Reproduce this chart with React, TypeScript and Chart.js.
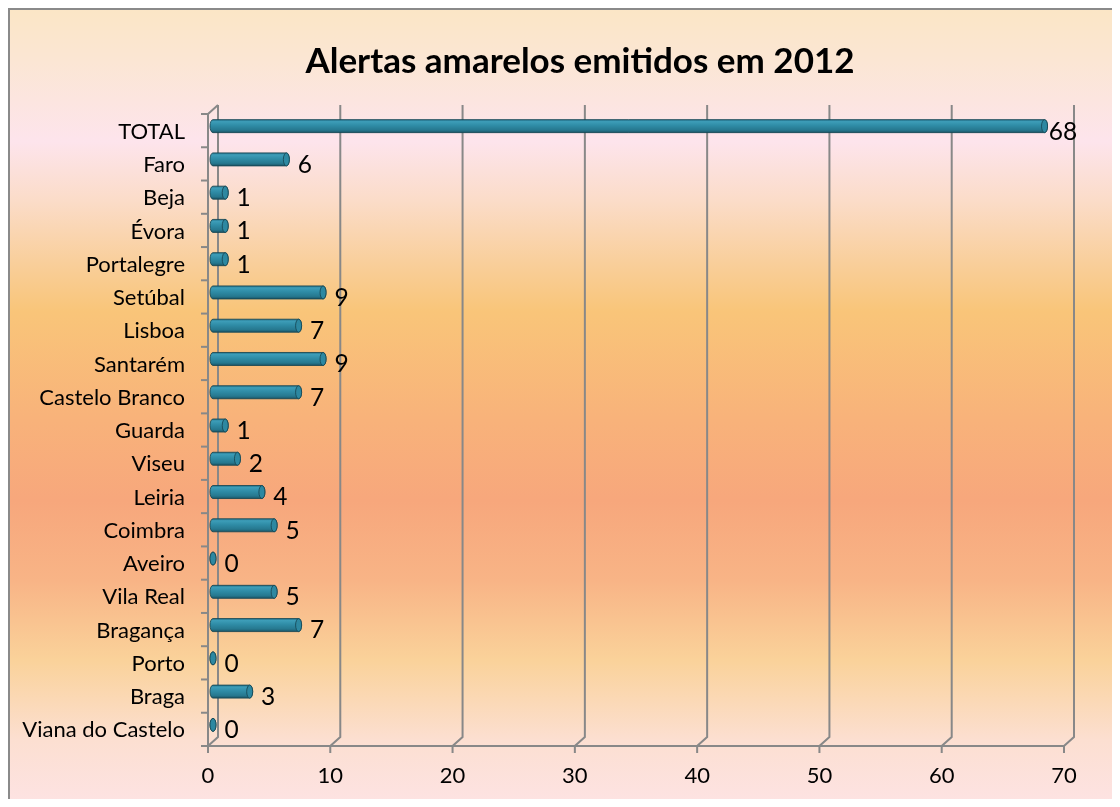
import React, { useEffect, useRef } from "react";
import { Chart, registerables } from "chart.js";

Chart.register(...registerables);

const chartTitle = "Alertas amarelos emitidos em 2012";
const categories = [
  "TOTAL",
  "Faro",
  "Beja",
  "Évora",
  "Portalegre",
  "Setúbal",
  "Lisboa",
  "Santarém",
  "Castelo Branco",
  "Guarda",
  "Viseu",
  "Leiria",
  "Coimbra",
  "Aveiro",
  "Vila Real",
  "Bragança",
  "Porto",
  "Braga",
  "Viana do Castelo",
];
const alerts = [68, 6, 1, 1, 1, 9, 7, 9, 7, 1, 2, 4, 5, 0, 5, 7, 0, 3, 0];
const xTicks = [0, 10, 20, 30, 40, 50, 60, 70];

const FONT = "Lato";
const DX = 5;
const DY = 4.5;
const LINE = "#888888";

const titlePlugin = {
  id: "titleText",
  afterDraw(chart: any) {
    const { ctx } = chart;
    ctx.save();
    ctx.font = `bold 35px ${FONT}`;
    ctx.fillStyle = "#000";
    ctx.textAlign = "center";
    ctx.textBaseline = "middle";
    ctx.fillText(chartTitle, 570, 52);
    ctx.restore();
  },
};

const framePlugin = {
  id: "frame3d",
  beforeDatasetsDraw(chart: any) {
    const { ctx, chartArea, scales } = chart;
    const { left, top, bottom } = chartArea;
    const x = scales.x;
    ctx.save();
    ctx.strokeStyle = LINE;
    ctx.lineWidth = 2;
    ctx.lineJoin = "miter";
    ctx.beginPath();
    ctx.moveTo(left - DX, bottom + DY);
    ctx.lineTo(left - DX, top + DY);
    ctx.lineTo(left + DX, top - DY);
    ctx.stroke();
    xTicks.forEach((v) => {
      const px = x.getPixelForValue(v);
      ctx.beginPath();
      ctx.moveTo(px + DX, top - DY);
      ctx.lineTo(px + DX, bottom - DY);
      ctx.lineTo(px - DX, bottom + DY);
      ctx.lineTo(px - DX, bottom + DY + 7);
      ctx.stroke();
    });
    ctx.beginPath();
    ctx.moveTo(x.getPixelForValue(xTicks[0]) - DX, bottom + DY);
    ctx.lineTo(x.getPixelForValue(xTicks[xTicks.length - 1]) - DX, bottom + DY);
    ctx.stroke();
    const n = categories.length;
    const step = (bottom - top) / n;
    for (let k = 0; k <= n; k++) {
      const y = top + k * step + DY;
      ctx.beginPath();
      ctx.moveTo(left - DX - 7, y);
      ctx.lineTo(left - DX, y);
      ctx.stroke();
    }
    ctx.restore();
  },
};

const cylinderPlugin = {
  id: "cylinders",
  afterDatasetsDraw(chart: any) {
    const { ctx } = chart;
    const meta = chart.getDatasetMeta(0);
    const values = chart.data.datasets[0].data as number[];
    ctx.save();
    meta.data.forEach((bar: any, i: number) => {
      const { x: xe, y, base, height } = bar.getProps(["x", "y", "base", "height"], true);
      const r = height / 2;
      const rx = 3;
      const g = ctx.createLinearGradient(0, y - r, 0, y + r);
      g.addColorStop(0, "#23728a");
      g.addColorStop(0.15, "#3d9db8");
      g.addColorStop(0.45, "#2f8ca6");
      g.addColorStop(0.8, "#26788f");
      g.addColorStop(1, "#1b5566");
      ctx.beginPath();
      ctx.moveTo(base, y - r);
      ctx.lineTo(xe, y - r);
      ctx.ellipse(xe, y, rx, r, 0, -Math.PI / 2, Math.PI / 2);
      ctx.lineTo(base, y + r);
      ctx.ellipse(base, y, rx, r, 0, Math.PI / 2, (Math.PI * 3) / 2);
      ctx.closePath();
      ctx.fillStyle = g;
      ctx.fill();
      ctx.strokeStyle = "rgba(22,70,84,0.85)";
      ctx.lineWidth = 1;
      ctx.stroke();
      ctx.beginPath();
      ctx.ellipse(xe, y, rx, r, 0, 0, Math.PI * 2);
      ctx.fillStyle = "#2d88a1";
      ctx.fill();
      ctx.stroke();
      ctx.fillStyle = "#000";
      ctx.font = `24.5px ${FONT}`;
      ctx.textAlign = "center";
      ctx.textBaseline = "middle";
      ctx.fillText(String(values[i]), xe + 18.5, y + DY + 1);
    });
    ctx.restore();
  },
};

export default function App() {
  const ref = useRef<HTMLCanvasElement | null>(null);

  useEffect(() => {
    document.documentElement.style.overflow = "hidden";
    const canvas = ref.current;
    if (!canvas) return;
    const chart = new Chart(canvas, {
      type: "bar",
      data: {
        labels: categories,
        datasets: [
          {
            label: chartTitle,
            data: alerts,
            backgroundColor: "rgba(0,0,0,0)",
            borderWidth: 0,
            barThickness: 13,
          },
        ],
      },
      options: {
        animation: false,
        responsive: false,
        indexAxis: "y",
        layout: { padding: { top: 99.5, left: 0, right: 51, bottom: 0 } },
        plugins: {
          legend: { display: false },
          tooltip: { enabled: false },
          title: { display: false },
        },
        scales: {
          x: {
            min: 0,
            max: 70,
            ticks: {
              stepSize: 10,
              labelOffset: -5,
              padding: 21.5,
              font: { family: FONT, size: 22 },
              color: "#000",
            },
            grid: { display: false, drawTicks: false },
            border: { display: false },
            afterFit(s: any) {
              s.height = 65.5;
            },
          },
          y: {
            ticks: {
              labelOffset: 5.5,
              padding: 28,
              font: { family: FONT, size: 22 },
              color: "#000",
              autoSkip: false,
            },
            grid: { display: false, drawTicks: false },
            border: { display: false },
            afterFit(s: any) {
              s.width = 203;
            },
          },
        },
      },
      plugins: [framePlugin, cylinderPlugin, titlePlugin],
    } as any);
    return () => chart.destroy();
  }, []);

  return (
    <div
      style={{
        width: 1110,
        height: 797,
        borderLeft: "2px solid #8a8a8a",
        borderTop: "2px solid #8a8a8a",
        marginBottom: -8,
        background:
          "linear-gradient(to bottom, #fbe6c6 0%, #fbe6d4 6.5%, #fde4ec 16.5%, #fbdcc8 24%, #f9cf9c 31.5%, #f9c579 37.8%, #f8b27a 51.5%, #f7a77c 61.6%, #f8b486 71.6%, #fad29a 81.6%, #fcdfd1 91.6%, #fde3e4 100%)",
      }}
    >
      <canvas ref={ref} width={1110} height={797} style={{ display: "block" }} />
    </div>
  );
}
